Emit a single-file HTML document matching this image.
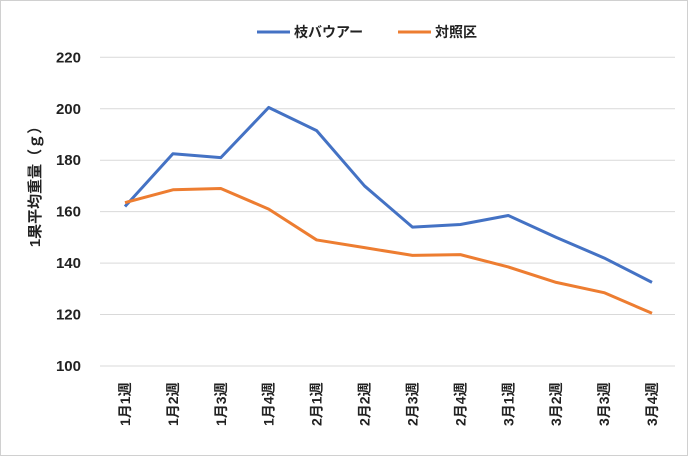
<!DOCTYPE html>
<html><head><meta charset="utf-8"><style>
body{margin:0;background:#fff}
svg{display:block;font-family:"Liberation Sans","Noto Sans CJK JP",sans-serif;font-weight:bold}
</style></head><body>
<svg width="688" height="456">
<rect x="0.5" y="0.5" width="687" height="455" fill="#fff" stroke="#d0d0d0"/>
<g id="grid"></g><g id="ylab"></g><g id="xlab"></g><g id="lines"></g>
<text transform="translate(40,183) rotate(-90)" text-anchor="middle" font-size="15" fill="#222">1果平均重量（ｇ）</text>
<g>
<line x1="257" y1="32" x2="290" y2="32" stroke="#4472c4" stroke-width="3"/>
<text x="294" y="37" font-size="14" fill="#222">枝バウアー</text>
<line x1="398" y1="32" x2="431" y2="32" stroke="#ed7d31" stroke-width="3"/>
<text x="435" y="37" font-size="14" fill="#222">対照区</text>
</g>
</svg>
<script>
const categories=["1月1週","1月2週","1月3週","1月4週","2月1週","2月2週","2月3週","2月4週","3月1週","3月2週","3月3週","3月4週"];
const edaBauer=[162,182.5,181,200.5,191.5,170,154,155,158.5,150,142,132.5];
const control=[163.5,168.5,169,161,149,146,143,143.3,138.5,132.5,128.5,120.5];
const yTicks=[100,120,140,160,180,200,220];
const NS="http://www.w3.org/2000/svg";
const y=v=>366-(v-100)*(366-57.3)/120;
const x=i=>125+i*(652-125)/(categories.length-1);
function mk(t,a,p){const e=document.createElementNS(NS,t);for(const k in a)e.setAttribute(k,a[k]);document.getElementById(p).appendChild(e);return e;}
yTicks.forEach(v=>{
 const l=mk('line',{x1:100,x2:675,y1:y(v),y2:y(v),stroke:'#d9d9d9','stroke-width':1},'grid');
 
 
 const t=mk('text',{x:81,y:y(v)+5,'text-anchor':'end','font-size':15,fill:'#222'},'ylab');
 t.textContent=v;
 
 
});
categories.forEach((c,i)=>{
 const t=mk('text',{transform:`translate(${x(i)+5},${426}) rotate(-90)`,'font-size':14,fill:'#222'},'xlab');
 t.textContent=c;
 
 
});
[[edaBauer,'#4472c4','series-edabauer'],[control,'#ed7d31','series-control']].forEach(([d,col,n])=>{
 const p=mk('polyline',{points:d.map((v,i)=>x(i)+','+y(v)).join(' '),fill:'none',stroke:col,'stroke-width':3,'stroke-linejoin':'round'},'lines');
 
 
});
</script>
</body></html>
